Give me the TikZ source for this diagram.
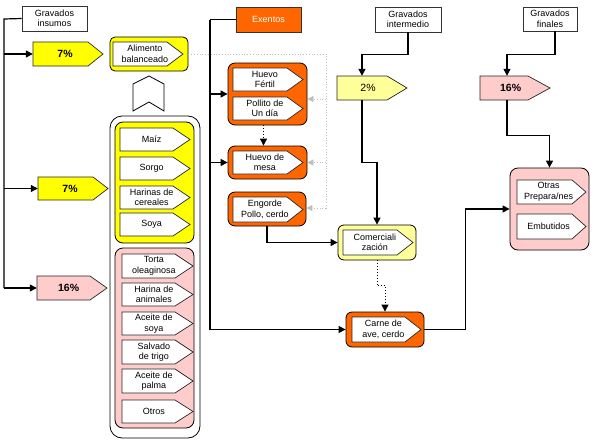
\documentclass[tikz,border=0pt]{standalone}
\usepackage{fontspec}
\setmainfont{Liberation Sans}
\usetikzlibrary{arrows.meta,calc}
\definecolor{org}{HTML}{FF6600}
\definecolor{yel}{HTML}{FFFF00}
\definecolor{pyel}{HTML}{FFFF99}
\definecolor{pnk}{HTML}{FFCCCC}
\tikzset{
 pshape/.style={draw=black!85,line width=0.7pt},
 pbox/.style={inner sep=0pt},
 ptxt/.style={inner sep=0pt,align=center,font=\fontsize{9}{10.5}\selectfont},
 pcttxt/.style={inner sep=0pt,align=center,font=\bfseries\fontsize{10.5}{12}\selectfont},
 grpbox/.style={draw=black,line width=0.8pt,inner sep=0pt},
 lblbox/.style={draw=black!80,line width=0.8pt,fill=white,inner sep=0pt,align=center,font=\fontsize{9}{10.5}\selectfont},
 tip/.style={-{Triangle[length=7pt,width=7pt]}},
 conn/.style={line width=1.2pt,tip},
 plainln/.style={line width=1.2pt},
 gdot/.style={draw=black!25,dotted,line width=0.8pt},
 garr/.style={gdot,-{Triangle[length=6pt,width=6pt,fill=black!25,color=black!25]}},
 bdot/.style={dotted,line width=0.9pt,tip}
}
% pentagon: name, fill, x1, y1, x2(rect end), y2, tip length, text
\newcommand\pent[8]{%
 \filldraw[pshape,fill=#2] (#3,#4) -- (#5,#4) -- ({#5+#7},{(#4+#6)/2}) -- (#5,#6) -- (#3,#6) -- cycle;
 \node[pbox,minimum width={(#5-#3)*1pt},minimum height={(#6-#4)*1pt}] (#1) at ({(#3+#5)/2},{(#4+#6)/2}) {};
 \node[ptxt] (#1-t) at ({(#3+#5)/2+0.3*#7},{(#4+#6)/2}) {#8};}
% group: name, fill, x1, y1, x2, y2, radius
\newcommand\grp[7]{%
 \node[grpbox,fill=#2,rounded corners=#7,minimum width={(#5-#3)*1pt},minimum height={(#6-#4)*1pt}] (#1) at ({(#3+#5)/2},{(#4+#6)/2}) {};}
\begin{document}
\begin{tikzpicture}[x=1pt,y=-1pt]
\useasboundingbox (0,0) rectangle (595,442);

% header labels
\node[lblbox,minimum width=65pt,minimum height=25pt] (gins) at (54.5,18.5) {Gravados\\insumos};
\node[lblbox,fill=org,text=white,minimum width=65pt,minimum height=25pt] (exen) at (268.5,19.5) {Exentos};
\node[lblbox,minimum width=66pt,minimum height=25pt] (gint) at (408,19.5) {Gravados\\intermedio};
\node[lblbox,minimum width=54pt,minimum height=24pt] (gfin) at (550,19) {Gravados\\finales};

% left tax boxes
\pent{p7a}{yel}{33}{42}{88}{66}{15}{\bfseries\fontsize{10.5}{12}\selectfont 7\%}
\pent{p7b}{yel}{38}{177}{93}{200}{15}{\bfseries\fontsize{10.5}{12}\selectfont 7\%}
\pent{p16a}{pnk}{37}{276}{90}{300}{17}{\bfseries\fontsize{10.5}{12}\selectfont 16\%}

% alimento balanceado
\grp{alim}{yel}{110}{37}{188}{71}{5pt}
\pent{alimt}{white}{113}{42}{167}{66}{16}{Alimento\\balanceado}

% chevron
\draw[line width=0.8pt,fill=white] (133,84) -- (149,76) -- (164,84) -- (164,111) -- (149,102) -- (133,111) -- cycle;

% big input box
\grp{big}{white}{110}{116}{200}{438}{12pt}
\grp{ygrp}{yel}{115}{122}{194}{243}{8pt}
\pent{maiz}{white}{120}{128}{173}{151}{17}{Maíz}
\pent{sorgo}{white}{120}{157}{173}{180}{17}{Sorgo}
\pent{harc}{white}{120}{186}{173}{209}{17}{Harinas de\\cereales}
\pent{soya}{white}{120}{213}{173}{236}{17}{Soya}
\grp{pgrp}{pnk}{115}{248}{194}{428}{8pt}
\pent{torta}{white}{122}{254}{175}{278}{18}{Torta\\oleaginosa}
\pent{hara}{white}{122}{283}{175}{306}{18}{Harina de\\animales}
\pent{acs}{white}{122}{312}{175}{335}{18}{Aceite de\\soya}
\pent{salv}{white}{122}{340}{175}{364}{18}{Salvado\\de trigo}
\pent{acp}{white}{122}{369}{175}{393}{18}{Aceite de\\palma}
\pent{otros}{white}{122}{400}{175}{423}{18}{Otros}

% exentos groups
\grp{hfg}{org}{228}{63}{307}{125}{7pt}
\pent{hf}{white}{233}{68}{287}{91}{16}{Huevo\\Fértil}
\pent{pol}{white}{233}{97}{287}{120}{16}{Pollito de\\Un día}
\grp{mesag}{org}{228}{146}{307}{179}{7pt}
\pent{mesa}{white}{233}{151}{287}{174}{16}{Huevo de\\mesa}
\grp{engg}{org}{228}{192}{306}{226}{7pt}
\pent{eng}{white}{233}{197}{287}{222}{16}{Engorde\\Pollo, cerdo}

% intermedio
\pent{p2}{pyel}{337}{76}{387}{100}{20}{\fontsize{10.5}{12}\selectfont 2\%}
\grp{comg}{pyel}{338}{225}{416}{260}{6pt}
\pent{com}{white}{343}{230}{397}{255}{16}{Comerciali\\zación}
\grp{carg}{org}{346}{312}{424}{347}{6pt}
\pent{car}{white}{352}{317}{405}{342}{16}{Carne de\\ave, cerdo}

% finales
\pent{p16b}{pnk}{480}{76}{528}{100}{22}{\bfseries\fontsize{10.5}{12}\selectfont 16\%}
\grp{pfg}{pnk}{510}{168}{589}{250}{8pt}
\pent{otp}{white}{517}{180}{572}{204}{14}{Otras\\Prepara/nes}
\pent{emb}{white}{517}{214}{572}{239}{14}{Embutidos}

% left trunk
\coordinate (ltop) at (4,19);
\coordinate (lbot) at (4,288);
\draw[plainln] (gins.west) -- (ltop) -- (lbot);
\draw[conn] (ltop |- p7a.west) -- (p7a.west);
\draw[conn] (ltop |- p7b.west) -- (p7b.west);
\draw[conn] (lbot) -- (p16a.west);

% exentos trunk
\coordinate (etop) at (210,19.5);
\draw[plainln] (exen.west) -- (etop);
\draw[conn] (etop) |- (carg.west);
\draw[conn] (etop |- hfg.west) -- (hfg.west);
\draw[conn] (etop |- mesag.west) -- (mesag.west);
\draw[bdot] ([xshift=-4pt]hfg.south) -- ([xshift=-4pt]mesag.north);

% grey dotted feed
\coordinate (gbus) at (326,208);
\draw[gdot] (alim.east) -| (gbus);
\draw[garr] (gbus |- 0,99) -- (hfg.east |- 0,99);
\draw[garr] (gbus |- mesag.east) -- (mesag.east);
\draw[garr] (gbus) -- (engg.east |- gbus);

% engorde -> comercializacion
\draw[conn] (engg.south) |- (comg.west);

% intermedio chain
\draw[conn] (gint.south) -- ++(0,22) -| (p2.north);
\draw[conn] (p2.south) -- ++(0,62) -| (comg.north);
\draw[bdot] (comg.south) -- ++(0,25) -| (carg.north);

% carne -> finales group
\draw[conn] (carg.east) -- ++(41,0) |- (pfg.west);

% finales chain
\draw[conn] ([xshift=5pt]gfin.south) -- ++(0,23) -| ([xshift=3pt]p16b.north);
\draw[conn] ([xshift=3pt]p16b.south) -- ++(0,35) -| (pfg.north);
\end{tikzpicture}
\end{document}
